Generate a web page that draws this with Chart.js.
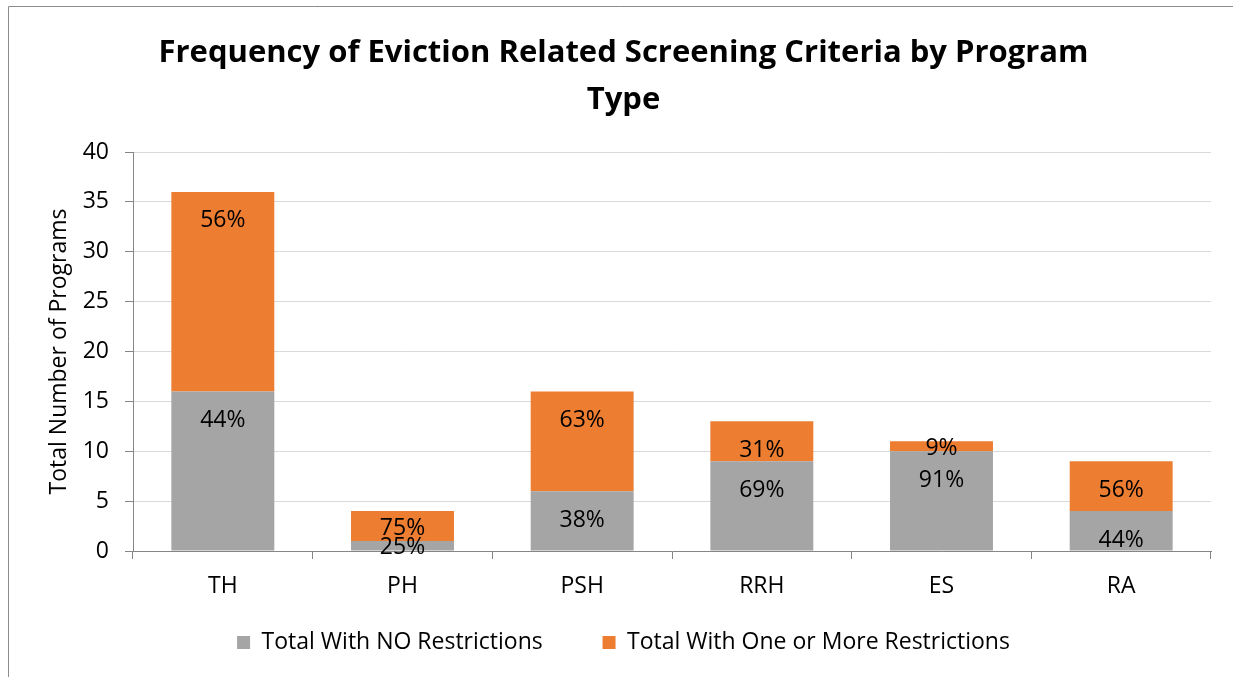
<!DOCTYPE html>
<html>
<head>
<meta charset="utf-8">
<script src="https://cdn.jsdelivr.net/npm/chart.js@4"></script>
<style>
  html, body { margin: 0; padding: 0; background: #fff; }
  #wrap { width: 1233px; height: 677px; position: relative; }
</style>
</head>
<body>
<div id="wrap"><canvas id="chart"></canvas></div>
<script>
// Chart data
const categories = ['TH', 'PH', 'PSH', 'RRH', 'ES', 'RA'];
const noRestrictions = [16, 1, 6, 9, 10, 4];
const withRestrictions = [20, 3, 10, 4, 1, 5];
const seriesNames = ['Total With NO Restrictions', 'Total With One or More Restrictions'];
const titleLines = ['Frequency of Eviction Related Screening Criteria by Program', 'Type'];
const yTitle = 'Total Number of Programs';

const FONT = '"Open Sans", Calibri, sans-serif';
const TEXT_SIZE = 23;

// Outer frame like the Excel chart border
const framePlugin = {
  id: 'frame',
  beforeDraw(chart) {
    const ctx = chart.ctx;
    ctx.save();
    ctx.strokeStyle = '#8c8c8c';
    ctx.lineWidth = 1;
    ctx.beginPath();
    ctx.moveTo(8.5, chart.height);
    ctx.lineTo(8.5, 6.5);
    ctx.lineTo(chart.width, 6.5);
    ctx.stroke();
    ctx.restore();
  }
};

// Percentage labels inside each segment
const percentPlugin = {
  id: 'percentLabels',
  afterDatasetsDraw(chart) {
    const ctx = chart.ctx;
    ctx.save();
    ctx.font = TEXT_SIZE + 'px ' + FONT;
    ctx.fillStyle = '#000';
    ctx.textAlign = 'center';
    ctx.textBaseline = 'middle';
    chart.data.datasets.forEach((ds, di) => {
      const meta = chart.getDatasetMeta(di);
      meta.data.forEach((bar, i) => {
        const total = noRestrictions[i] + withRestrictions[i];
        const pct = Math.round(ds.data[i] / total * 100);
        const top = Math.min(bar.y, bar.base);
        const bottom = Math.max(bar.y, bar.base);
        const h = bottom - top;
        const y = h >= 35 ? top + 29 : (top + bottom) / 2 + 2;
        ctx.fillText(pct + '%', bar.x, y);
      });
    });
    ctx.restore();
  }
};

new Chart(document.getElementById('chart'), {
  type: 'bar',
  data: {
    labels: categories,
    datasets: [
      {
        label: seriesNames[0],
        data: noRestrictions,
        backgroundColor: '#A5A5A5'
      },
      {
        label: seriesNames[1],
        data: withRestrictions,
        backgroundColor: '#ED7D31'
      }
    ]
  },
  options: {
    responsive: true,
    maintainAspectRatio: false,
    animation: false,
    categoryPercentage: 1,
    barPercentage: 0.573,
    layout: {
      padding: { left: 36, right: 22, top: 0, bottom: 13 }
    },
    scales: {
      x: {
        stacked: true,
        offset: true,
        grid: {
          offset: true,
          drawOnChartArea: false,
          drawTicks: true,
          tickLength: 8,
          tickColor: '#868686'
        },
        border: { color: '#868686' },
        ticks: {
          color: '#000',
          font: { family: FONT, size: TEXT_SIZE },
          padding: 14
        },
        afterFit(scale) { scale.height = 68; }
      },
      y: {
        stacked: true,
        min: 0,
        max: 40,
        ticks: {
          stepSize: 5,
          color: '#000',
          font: { family: FONT, size: TEXT_SIZE },
          padding: 16
        },
        grid: {
          color: '#D9D9D9',
          tickLength: 8,
          tickColor: '#868686'
        },
        border: { color: '#868686' },
        title: {
          display: true,
          text: yTitle,
          color: '#000',
          font: { family: FONT, size: TEXT_SIZE },
          padding: { top: 10 }
        },
        afterFit(scale) { scale.width = 97; }
      }
    },
    plugins: {
      title: {
        display: true,
        text: titleLines,
        color: '#000',
        font: { family: FONT, size: 31, weight: 'bold', lineHeight: 1.5 },
        padding: { top: 30, bottom: 29 }
      },
      legend: {
        position: 'bottom',
        labels: {
          color: '#000',
          font: { family: FONT, size: TEXT_SIZE },
          boxWidth: 13,
          boxHeight: 13,
          padding: 12,
          // widen the gap after the first entry, as in the original legend
          generateLabels(chart) {
            const items = Chart.defaults.plugins.legend.labels.generateLabels(chart);
            items.forEach((item, i) => {
              if (i < items.length - 1) item.text += '\u00a0'.repeat(8);
            });
            return items;
          }
        }
      },
      tooltip: { enabled: false }
    }
  },
  plugins: [framePlugin, percentPlugin]
});
</script>
</body>
</html>
